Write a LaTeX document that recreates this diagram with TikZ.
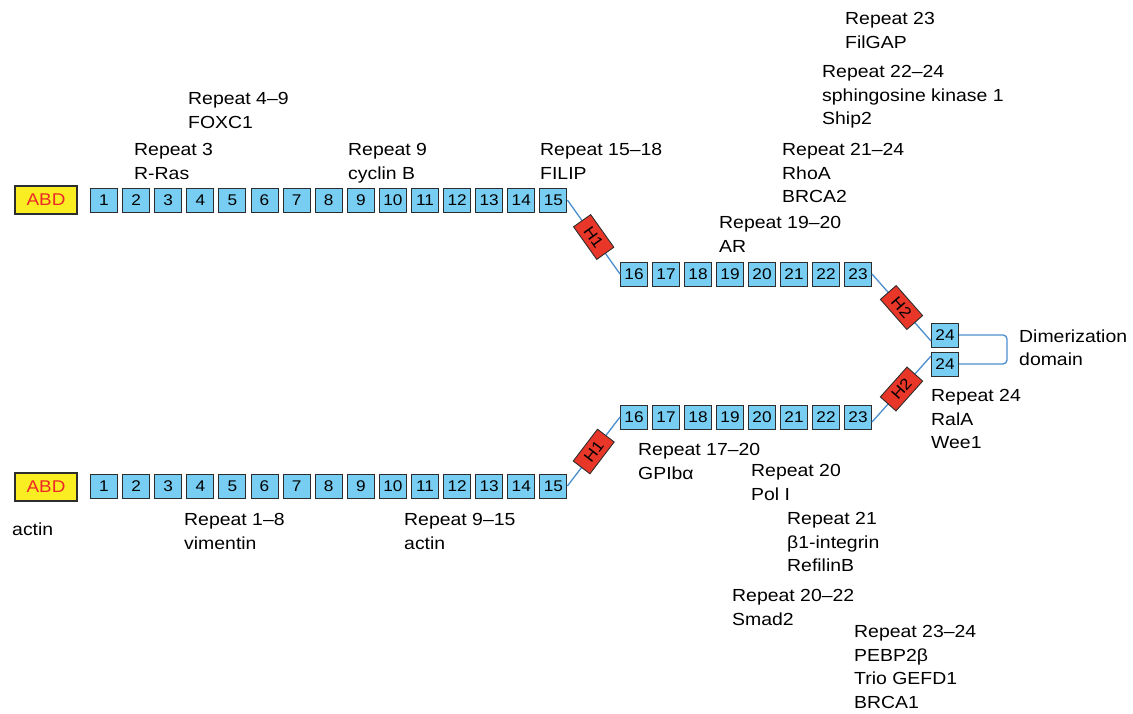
\documentclass[tikz,border=0pt]{standalone}
\usepackage{fontspec}
\setmainfont{Liberation Sans}[FakeStretch=1.11]
\definecolor{repblue}{RGB}{120,206,242}
\definecolor{hingered}{RGB}{232,54,40}
\definecolor{abdyellow}{RGB}{250,238,34}
\definecolor{abdred}{RGB}{236,40,40}
\definecolor{linkblue}{RGB}{74,142,206}
\definecolor{boxline}{RGB}{45,45,45}
\tikzset{
	rep/.style={draw=boxline,fill=repblue,line width=1pt,minimum width=27pt,minimum height=24pt,inner sep=0pt,font=\fontsize{15.5}{15.5}\selectfont},
	abd/.style={draw=boxline,fill=abdyellow,text=abdred,line width=2.4pt,minimum width=62pt,minimum height=28pt,inner sep=0pt,font=\fontsize{17}{17}\selectfont},
	hinge/.style={draw=boxline,fill=hingered,line width=0.9pt,minimum width=40pt,minimum height=21pt,inner sep=0pt,sloped,font=\fontsize{15.5}{15.5}\selectfont},
	link/.style={draw=linkblue,line width=1.3pt},
	lbl/.style={anchor=north west,align=left,inner sep=0pt,font=\fontsize{17.5}{23.5}\selectfont}
}
\begin{document}
\begin{tikzpicture}[x=1pt,y=-1pt]
	\useasboundingbox (0,0) rectangle (1133,713);
	% upper filamin
	\node[abd] (tabd) at (46,200) {ABD};
	\foreach \i in {1,...,15}{
		\node[rep] (t\i) at ({104+32.1*(\i-1)},200) {\i};
	}
	\foreach \i in {16,...,23}{
		\node[rep] (t\i) at ({634+32*(\i-16)},274) {\i};
	}
	\node[rep] (t24) at (945,335) {24};
	% lower filamin
	\node[abd] (babd) at (46,487) {ABD};
	\foreach \i in {1,...,15}{
		\node[rep] (b\i) at ({104+32.1*(\i-1)},486) {\i};
	}
	\foreach \i in {16,...,23}{
		\node[rep] (b\i) at ({634+32*(\i-16)},417) {\i};
	}
	\node[rep] (b24) at (945,364) {24};
	% hinges
	\draw[link] (t15.east) -- node[hinge]{H1} (t16.west);
	\draw[link] (t23.east) -- node[hinge]{H2} ([yshift=-6pt]t24.west);
	\draw[link] (b15.east) -- node[hinge]{H1} (b16.west);
	\draw[link] ([yshift=-5pt]b23.east) -- node[hinge]{H2} ([yshift=8pt]b24.west);
	\draw[link,rounded corners=4pt] (t24.east) -- ++(48,0) |- (b24.east);
	% partners (top of first line)
	\node[lbl] (p23) at (845,12.5) {Repeat 23\\FilGAP};
	\node[lbl] (p22) at (822,65.5) {Repeat 22–24\\sphingosine kinase 1\\Ship2};
	\node[lbl] (p4) at (188,92.5) {Repeat 4–9\\FOXC1};
	\node[lbl] (p3) at (134,143.5) {Repeat 3\\R-Ras};
	\node[lbl] (p9) at (348,143.5) {Repeat 9\\cyclin B};
	\node[lbl] (p15) at (540,143.5) {Repeat 15–18\\FILIP};
	\node[lbl] (p21) at (782,143.5) {Repeat 21–24\\RhoA\\BRCA2};
	\node[lbl] (p19) at (719,216.5) {Repeat 19–20\\AR};
	\node[lbl] (dim) at (1019,329.5) {Dimerization\\domain};
	\node[lbl] (p24) at (931,389.5) {Repeat 24\\RalA\\Wee1};
	\node[lbl] (p17) at (638,443.5) {Repeat 17–20\\GPIbα};
	\node[lbl] (p20) at (751,464.5) {Repeat 20\\Pol I};
	\node[lbl] (pabd) at (12,522.5) {actin};
	\node[lbl] (p1) at (184,513.5) {Repeat 1–8\\vimentin};
	\node[lbl] (p9b) at (404,513.5) {Repeat 9–15\\actin};
	\node[lbl] (p21b) at (787,512.5) {Repeat 21\\β1-integrin\\RefilinB};
	\node[lbl] (p20b) at (732,589.5) {Repeat 20–22\\Smad2};
	\node[lbl] (p23b) at (854,625.5) {Repeat 23–24\\PEBP2β\\Trio GEFD1\\BRCA1};
\end{tikzpicture}
\end{document}
